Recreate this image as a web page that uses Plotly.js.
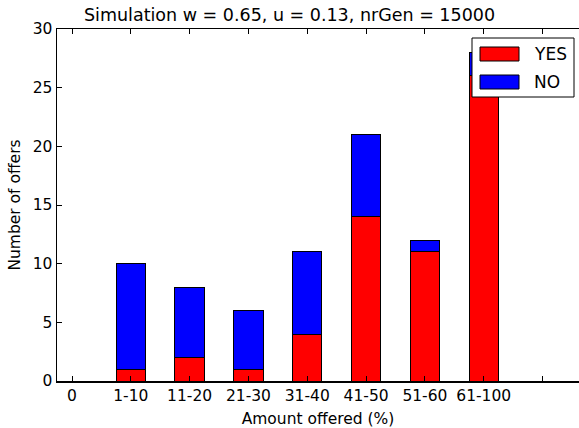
<!DOCTYPE html>
<html>
<head>
<meta charset="utf-8">
<script src="https://cdn.plot.ly/plotly-3.0.1.min.js"></script>
<style>
  html, body { margin: 0; padding: 0; background: #fff; overflow: hidden; }
  #chart { width: 579px; height: 428px; }
</style>
</head>
<body>
<div id="chart"></div>
<script>
// Offer bins and the number of accepted / rejected offers in each
const categories = ['1-10', '11-20', '21-30', '31-40', '41-50', '51-60', '61-100'];
const yesCounts = [1, 2, 1, 4, 14, 11, 26];
const noCounts = [9, 6, 5, 7, 7, 1, 2];
const tickLabels = ['0', '1-10', '11-20', '21-30', '31-40', '41-50', '51-60', '61-100', ''];
const seriesNames = ['YES', 'NO'];
const seriesColors = ['#ff0000', '#0000ff'];

// Bars sit at integer positions 1..7; position 0 and 8 carry ticks only
const positions = categories.map((c, i) => i + 1);
const tickPositions = tickLabels.map((t, i) => i);

const W = 579, H = 428;
const M = { l: 57, r: 0, t: 29, b: 47 };
const plotW = W - M.l - M.r, plotH = H - M.t - M.b;
const px = x => (x - M.l) / plotW;
const py = y => (H - M.b - y) / plotH;

const font = { family: 'DejaVu Sans, sans-serif', color: '#000' };
const f = size => Object.assign({ size: size }, font);

const traces = [yesCounts, noCounts].map((vals, k) => ({
  type: 'bar',
  x: positions,
  y: vals,
  name: seriesNames[k],
  width: 0.5,
  marker: { color: seriesColors[k], line: { color: '#000', width: 1 } },
  hoverinfo: 'skip'
}));

// Legend box drawn as shapes, with wide swatches
const shapes = [
  { type: 'rect', xref: 'paper', yref: 'paper',
    x0: px(472), x1: px(574), y0: py(97), y1: py(38),
    fillcolor: '#fff', line: { color: '#000', width: 1 }, layer: 'above' }
];
const annotations = [];
const rowsY = [54, 82];
seriesNames.forEach((name, k) => {
  shapes.push({ type: 'rect', xref: 'paper', yref: 'paper',
    x0: px(480), x1: px(519), y0: py(rowsY[k] + 7), y1: py(rowsY[k] - 7),
    fillcolor: seriesColors[k], line: { color: '#000', width: 1 }, layer: 'above' });
  annotations.push({ xref: 'paper', yref: 'paper', x: px(532), y: py(rowsY[k]),
    xanchor: 'left', yanchor: 'middle', text: name, showarrow: false,
    font: f(17) });
});

const layout = {
  width: W, height: H,
  margin: M,
  barmode: 'stack',
  showlegend: false,
  paper_bgcolor: '#fff',
  plot_bgcolor: '#fff',
  font: f(15.5),
  title: { text: 'Simulation w = 0.65, u = 0.13, nrGen = 15000',
    x: 0.5, xref: 'container', xanchor: 'center',
    y: 1 - 15 / H, yref: 'container', yanchor: 'middle',
    font: f(17.5) },
  xaxis: {
    range: [-0.255, 8.62],
    tickvals: tickPositions, ticktext: tickLabels,
    ticks: 'inside', ticklen: 5, tickcolor: '#000', tickwidth: 1,
    showline: true, linecolor: '#000', linewidth: 1.5, mirror: 'ticks',
    showgrid: false, zeroline: false,
    title: { text: 'Amount offered (%)', standoff: 10, font: f(15.5) },
    tickfont: f(15.5)
  },
  yaxis: {
    range: [0, 30],
    tickvals: [0, 5, 10, 15, 20, 25, 30],
    ticks: 'inside', ticklen: 5, tickcolor: '#000', tickwidth: 1,
    showline: true, linecolor: '#000', linewidth: 1.5, mirror: false,
    showgrid: false, zeroline: false,
    title: { text: 'Number of offers', standoff: 8, font: f(15.5) },
    tickfont: f(15.5)
  },
  shapes: shapes,
  annotations: annotations
};

Plotly.newPlot('chart', traces, layout, { displayModeBar: false, staticPlot: true });
</script>
</body>
</html>
